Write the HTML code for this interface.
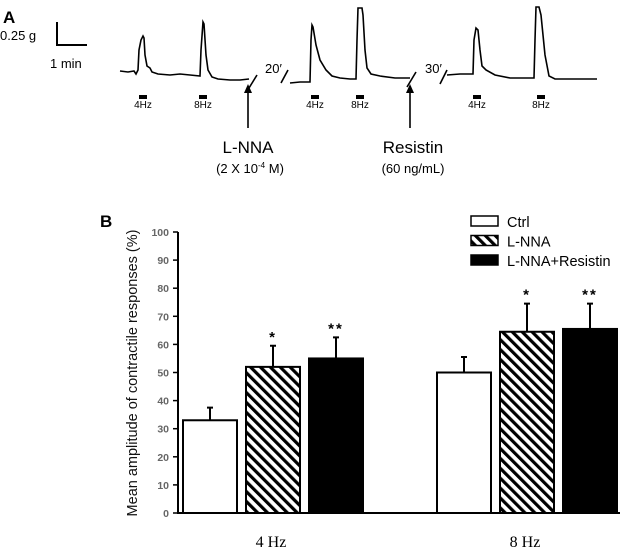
<!DOCTYPE html>
<html><head><meta charset="utf-8"><style>
body{margin:0;background:#fff;}
svg{display:block;font-family:"Liberation Sans",sans-serif;}
</style></head><body>
<svg width="625" height="548" viewBox="0 0 625 548">
<defs>
<pattern id="hatch" patternUnits="userSpaceOnUse" width="7" height="7" patternTransform="rotate(-45)">
<rect width="7" height="7" fill="#fff"/><rect x="0" y="0" width="3.2" height="7" fill="#000"/>
</pattern>
</defs>
<g>
<text x="3" y="23" font-size="17" font-weight="bold">A</text>
<text x="0" y="40" font-size="13">0.25 g</text>
<polyline points="57,22 57,45 87,45" fill="none" stroke="#000" stroke-width="2"/>
<text x="50" y="68" font-size="13">1 min</text>
<g fill="none" stroke="#000" stroke-width="1.6">
<polyline points="120,71 128,72 134,71 136,74 138,70 139,50 141,40 143,36 144,38 145,55 147,66 150,68 152,72 158,74 170,75 180,74 190,75 200,76 201,50 203,22 204,24 206,55 208,70 212,77 218,79 230,80 240,80 249,79"/>
<polyline points="249,88 257,75"/>
<polyline points="281,83 288,70"/>
<polyline points="290,83 300,82 310,82 311,40 312,25 313,27 316,45 320,60 326,70 332,76 340,78 350,79 356,79 357,40 358,8 362,8 363,15 365,50 367,68 371,74 380,76 395,78 410,78"/>
<polyline points="407,87 416,72"/>
<polyline points="440,84 447,70"/>
<polyline points="447,75 460,74 473,74 474,40 476,28 478,30 480,50 482,66 486,70 495,75 510,78 525,78 534,78 535,40 536,7 539,7 541,15 545,55 549,76 555,79 575,79 597,79"/>
</g>
<text x="265" y="73" font-size="13">20′</text>
<text x="425" y="73" font-size="13">30′</text>
<g>
<rect x="139" y="95" width="8" height="4" fill="#000"/>
<rect x="199" y="95" width="8" height="4" fill="#000"/>
<rect x="311" y="95" width="8" height="4" fill="#000"/>
<rect x="356" y="95" width="8" height="4" fill="#000"/>
<rect x="473" y="95" width="8" height="4" fill="#000"/>
<rect x="537" y="95" width="8" height="4" fill="#000"/>
</g>
<g font-size="10" text-anchor="middle">
<text x="143" y="108">4Hz</text>
<text x="203" y="108">8Hz</text>
<text x="315" y="108">4Hz</text>
<text x="360" y="108">8Hz</text>
<text x="477" y="108">4Hz</text>
<text x="541" y="108">8Hz</text>
</g>
<g>
<line x1="248" y1="128" x2="248" y2="92" stroke="#000" stroke-width="1.6"/>
<polygon points="244,93 252,93 248,84" fill="#000"/>
</g>
<g>
<line x1="410" y1="128" x2="410" y2="92" stroke="#000" stroke-width="1.6"/>
<polygon points="406,93 414,93 410,84" fill="#000"/>
</g>
<text x="248" y="153" font-size="17" text-anchor="middle">L-NNA</text>
<text x="250" y="173" font-size="13" text-anchor="middle">(2 X 10<tspan font-size="8" dy="-5">-4</tspan><tspan dy="5"> M)</tspan></text>
<text x="413" y="153" font-size="17" text-anchor="middle">Resistin</text>
<text x="413" y="173" font-size="13" text-anchor="middle">(60 ng/mL)</text>
</g>
<g id="chartB">
<text x="100" y="227" font-size="17" font-weight="bold">B</text>
<text transform="translate(137,373) rotate(-90)" font-size="14.5" text-anchor="middle" fill="#111">Mean amplitude of contractile responses (%)</text>
</g>
</svg>
<script>
const categories = ["4 Hz", "8 Hz"];
const seriesNames = ["Ctrl", "L-NNA", "L-NNA+Resistin"];
const ctrlValues = [33, 50];
const lnnaValues = [52, 64.5];
const resValues = [55, 65.5];
const ctrlErr = [4.5, 5.5];
const lnnaErr = [7.5, 10];
const resErr = [7.5, 9];
const ctrlSig = ["", ""];
const lnnaSig = ["*", "*"];
const resSig = ["**", "**"];
const yTicks = [0,10,20,30,40,50,60,70,80,90,100];

const NS = "http://www.w3.org/2000/svg";
const g = document.getElementById("chartB");
const y0 = 513, y100 = 232, axX = 178;
const yScale = v => y0 - (v/100)*(y0-y100);
const groupStart = [183, 437], barW = 54, barStep = 63;
const xBar = (ci, si) => groupStart[ci] + si*barStep;
function mk(tag, attrs){const e=document.createElementNS(NS,tag);for(const k in attrs)e.setAttribute(k,attrs[k]);g.appendChild(e);return e;}

const axis = mk("path",{d:`M${axX},${y100} V${y0} H620`,stroke:"#000","stroke-width":2,fill:"none"});


yTicks.forEach(t=>{
  const y=yScale(t);
  const tk=mk("line",{x1:axX-5,x2:axX,y1:y,y2:y,stroke:"#000","stroke-width":1.5});
  
  
  const lb=mk("text",{x:axX-9,y:y+4,"font-size":10.5,"font-weight":"bold",fill:"#666","text-anchor":"end"});
  lb.textContent=t;
  
  
});
const fills=["#fff","url(#hatch)","#000"];
const vals=[ctrlValues,lnnaValues,resValues], errs=[ctrlErr,lnnaErr,resErr], sigs=[ctrlSig,lnnaSig,resSig];
categories.forEach((c,ci)=>{
  vals.forEach((arr,si)=>{
    const x=xBar(ci,si), v=arr[ci], top=yScale(v), et=yScale(v+errs[si][ci]), cx=x+barW/2;
    const eb=mk("path",{d:`M${cx},${top} V${et} M${cx-3},${et} H${cx+3}`,stroke:"#000","stroke-width":2,fill:"none"});
    
    
    const r=mk("rect",{x:x,y:top,width:barW,height:y0-top,fill:fills[si],stroke:"#000","stroke-width":2});
    
    
    if(sigs[si][ci]){
      const s=mk("text",{x:cx,y:et-4,"font-size":15,"font-weight":"bold","text-anchor":"middle","letter-spacing":"2"});
      s.textContent=sigs[si][ci];
      
      
    }
  });
  const cl=mk("text",{x:groupStart[ci]+88,y:547,"font-size":16,"text-anchor":"middle","font-family":"Liberation Serif, serif"});
  cl.textContent=c;
  
  
});
seriesNames.forEach((n,si)=>{
  const y=216+si*19.5;
  const r=mk("rect",{x:471,y:y,width:27,height:10,fill:fills[si],stroke:"#000","stroke-width":1.5});
  
  
  const t=mk("text",{x:507,y:y+11,"font-size":14.5});
  t.textContent=n;
  
  
});
</script>
</body></html>
